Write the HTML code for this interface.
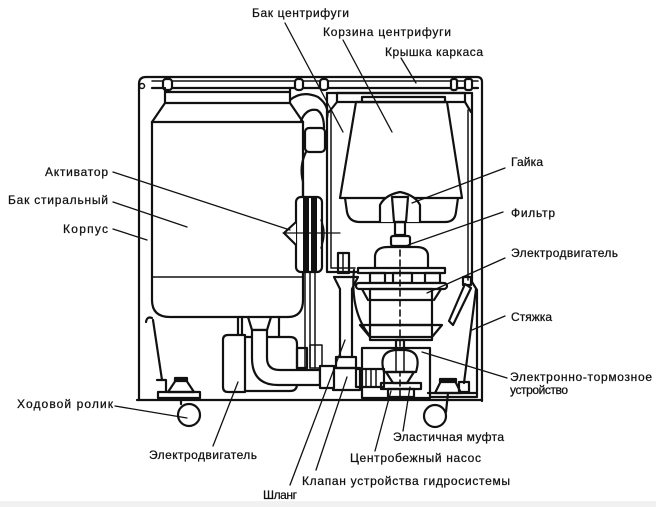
<!DOCTYPE html>
<html><head><meta charset="utf-8">
<style>
html,body{margin:0;padding:0;background:#fff;}
svg{display:block}
text{font-family:"Liberation Sans","DejaVu Sans",sans-serif;font-size:12px;fill:#111;stroke:#111;stroke-width:0.25;}
</style></head><body>
<svg width="656" height="507" viewBox="0 0 656 507" xmlns="http://www.w3.org/2000/svg">
<rect x="0" y="501" width="656" height="6" fill="#f1f1f1"/>
<g fill="none" stroke="#111" stroke-width="2.2" stroke-linejoin="round" stroke-linecap="round">
 <!-- frame -->
 <path d="M139,400 L139,84 Q139,77 146,77 L477,77 Q482,77 482,82 L482,401"/>
 <path d="M137,400 L482,400"/>
 <path d="M152,81 L478,81" stroke-width="1.5"/>
 <path d="M152,88 L478,88"/>
 <circle cx="142" cy="86" r="2.5" stroke-width="1.5"/>
 <rect x="163" y="79" width="9" height="11" rx="3" fill="#fff"/>
 <rect x="295" y="79" width="8" height="11" rx="3" fill="#fff"/>
 <rect x="320" y="79" width="8" height="11" rx="3" fill="#fff"/>
 <rect x="451" y="79" width="6" height="11" rx="2" fill="#fff"/>
 <rect x="465" y="79" width="7" height="11" rx="2" fill="#fff"/>

 <!-- washing tank -->
 <path d="M165,92 L290,92"/>
 <path d="M165,88 L165,103 L152,122 M290,88 L290,103 L303,122 M165,103 L290,103"/>
 <path d="M152,122 L303,122"/>
 <path d="M152,122 L152,300 Q152,317 170,317 L288,317 Q303,317 303,300 L303,122"/>
 <path d="M152,277 L303,277" stroke-width="1.6"/>

 <!-- activator drive -->
 <path d="M290,100 Q302,90 318,97 Q330,106 327,118"/>
 <path d="M301,121 Q306,108 317,110 Q324,114 324,128"/>
 <rect x="305" y="128" width="20" height="24" rx="4" fill="#fff"/>
 <path d="M306,152 Q299,166 303,182 L303,197"/>
 <rect x="296" y="197" width="26" height="75" rx="5" fill="#fff"/>
 <rect x="303" y="197" width="6" height="75" fill="#111" stroke="none"/>
 <rect x="311" y="197" width="6" height="75" fill="#111" stroke="none"/>
 <path d="M321,220 Q327,233 321,248" stroke-width="1.5"/>
 <path d="M296,222 L284,233 L296,245" fill="#fff"/>
 <path d="M283,233 L340,233" stroke-width="1.2"/>
 <path d="M305,272 L305,368 M310,272 L310,368 M315,272 L315,368" stroke-width="1.5"/>
 <rect x="310" y="345" width="12" height="23" stroke-width="1.5"/>

 <!-- centrifuge tank -->
 <path d="M327,93 L327,272 L362,272"/>
 <path d="M331,112 L331,268 L355,268" stroke-width="1.5"/>
 <path d="M327,93 L472,93"/>
 <rect x="337" y="93" width="128" height="9"/>
 <path d="M337,102 L329,112 M465,102 L471,112"/>
 <path d="M472,93 L472,282"/>
 <path d="M468,110 L468,280" stroke-width="1.5"/>
 <!-- basket -->
 <rect x="362" y="97" width="83" height="5" fill="#fff"/>
 <path d="M356,102 L447,102 L462,198 L340,198 Z"/>
 <path d="M345,198 L347,212 Q349,222 360,222 L445,222 Q455,222 456,212 L458,198"/>
 <path d="M380,222 L380,205 Q385,195 400,192 Q415,195 420,205 L420,222" fill="#fff"/>
 <path d="M392,197 L408,197 L406,222 L394,222 Z"/>
 <rect x="395" y="222" width="10" height="13"/>
 <rect x="391" y="236" width="19" height="10" rx="2" fill="#fff"/>

 <!-- centrifuge motor -->
 <path d="M375,268 L375,256 Q376,247 388,247 L416,247 Q428,247 428,256 L428,268"/>
 <rect x="358" y="268" width="87" height="5" fill="#fff"/>
 <rect x="370" y="273" width="15" height="10"/>
 <rect x="393" y="273" width="19" height="10"/>
 <rect x="425" y="273" width="15" height="10"/>
 <rect x="356" y="283" width="91" height="6" rx="3" fill="#fff"/>
 <rect x="370" y="289" width="62" height="51"/>
 <path d="M370,300 L432,300 M370,325 L432,325"/>
 <path d="M362,289 L368,300 M441,289 L434,300"/>
 <path d="M360,325 L442,325 L432,337 L370,337 Z"/>
 <path d="M354,270 Q350,312 370,336"/>
 <path d="M400,250 L400,400" stroke-width="1.6" stroke-dasharray="6,4"/>

 <!-- tie rod -->
 <rect x="463" y="277" width="8" height="8"/>
 <path d="M465,284 L471,288 L453,325 L449,321 Z" fill="#fff"/>
 <path d="M476,289 L464,383"/>
 <path d="M472,282 L477,290 L477,397 L430,397"/>
 <rect x="459" y="382" width="10" height="10"/>

 <!-- pump box -->
 <rect x="362" y="348" width="68" height="50"/>
 <rect x="396" y="340" width="8" height="10"/>
 <path d="M384,372 Q378,352 395,350 L406,350 Q422,352 416,372 Z" fill="#fff"/>
 <path d="M396,350 L396,372 M404,350 L404,372" stroke-width="1.5"/>
 <path d="M386,372 L414,372 L407,383 L393,383 Z"/>
 <rect x="381" y="383" width="40" height="6"/>
 <rect x="388" y="389" width="26" height="8"/>

 <!-- filter column -->
 <rect x="338" y="253" width="11" height="20"/>
 <path d="M343,253 L343,273" stroke-width="1.5"/>
 <path d="M334,277 L358,277 L352,289 L352,357 M334,277 L340,289 L340,357"/>
 <rect x="336" y="357" width="20" height="11"/>
 <rect x="333" y="368" width="27" height="22"/>
 <rect x="356" y="369" width="28" height="18"/>
 <path d="M366,369 L366,387 M371,369 L371,387 M376,369 L376,387" stroke-width="1.5"/>

 <!-- left motor -->
 <path d="M228,335 L245,335 L245,392 L228,392 Q223,392 223,387 L223,340 Q223,335 228,335 Z"/>
 <path d="M245,337 L290,337 Q297,337 297,344 L297,384 Q297,391 290,391 L245,391"/>
 <rect x="297" y="348" width="10" height="20"/>
 <path d="M238,317 L238,335 M242,317 L242,335 M279,317 L279,337"/>
 <path d="M248,317 L252,330 L267,330 L271,317"/>
 <path d="M252,330 L267,330 L267,358 Q267,370 280,370 L320,370 L320,385 L278,385 Q252,385 252,358 Z" fill="#fff"/>
 <rect x="320" y="366" width="14" height="22" fill="#fff"/>

 <!-- left wheel -->
 <path d="M146,322 Q147,316 152,318"/>
 <path d="M153,320 L162,380"/>
 <path d="M157,380 L166,380 L166,392"/>
 <path d="M176,380 L186,380 L194,392 L168,392 Z"/>
 <rect x="175" y="378" width="12" height="3" fill="#111"/>
 <rect x="158" y="392" width="42" height="6"/>
 <path d="M181,398 L181,404"/>
 <circle cx="189" cy="415" r="11"/>

 <!-- right wheel -->
 <path d="M441,381 L455,381 L461,393 L435,393 Z"/>
 <rect x="440" y="379" width="16" height="3" fill="#111"/>
 <path d="M428,393 L476,393"/>
 <path d="M448,393 L446,412"/>
 <circle cx="435" cy="416" r="11"/>
</g>

<!-- leader lines -->
<g stroke="#111" stroke-width="1.3" fill="none" stroke-linecap="round">
 <path d="M285,23 L343,132"/>
 <path d="M343,40 L392,132"/>
 <path d="M401,58 L416,83"/>
 <path d="M505,168 L412,203"/>
 <path d="M503,212 L408,245"/>
 <path d="M505,258 L427,293"/>
 <path d="M505,316 L472,330"/>
 <path d="M507,378 L422,352"/>
 <path d="M410,387 L403,431"/>
 <path d="M391,391 L375,451"/>
 <path d="M347,377 L316,470"/>
 <path d="M345,340 L290,485"/>
 <path d="M238,382 L213,446"/>
 <path d="M115,406 L187,418"/>
 <path d="M113,172 L290,230"/>
 <path d="M113,202 L187,227"/>
 <path d="M113,229 L147,240"/>
</g>

<!-- labels -->
<text x="252" y="17" textLength="97" lengthAdjust="spacing">Бак центрифуги</text>
<text x="323" y="36" textLength="128" lengthAdjust="spacing">Корзина центрифуги</text>
<text x="385" y="56" textLength="98" lengthAdjust="spacing">Крышка каркаса</text>
<text x="511" y="166" textLength="32" lengthAdjust="spacing">Гайка</text>
<text x="511" y="217" textLength="44" lengthAdjust="spacing">Фильтр</text>
<text x="511" y="257" textLength="107" lengthAdjust="spacing">Электродвигатель</text>
<text x="511" y="321" textLength="41" lengthAdjust="spacing">Стяжка</text>
<text x="510" y="381" textLength="142" lengthAdjust="spacing">Электронно-тормозное</text>
<text x="510" y="394" textLength="58" lengthAdjust="spacing">устройство</text>
<text x="393" y="441" textLength="111" lengthAdjust="spacing">Эластичная муфта</text>
<text x="350" y="462" textLength="131" lengthAdjust="spacing">Центробежный насос</text>
<text x="302" y="485" textLength="208" lengthAdjust="spacing">Клапан устройства гидросистемы</text>
<text x="263" y="499" textLength="34" lengthAdjust="spacing">Шланг</text>
<text x="149" y="459" textLength="108" lengthAdjust="spacing">Электродвигатель</text>
<text x="17" y="408" textLength="96" lengthAdjust="spacing">Ходовой ролик</text>
<text x="45" y="176" textLength="63" lengthAdjust="spacing">Активатор</text>
<text x="8" y="204" textLength="100" lengthAdjust="spacing">Бак стиральный</text>
<text x="63" y="233" textLength="45" lengthAdjust="spacing">Корпус</text>
</svg>
</body></html>
